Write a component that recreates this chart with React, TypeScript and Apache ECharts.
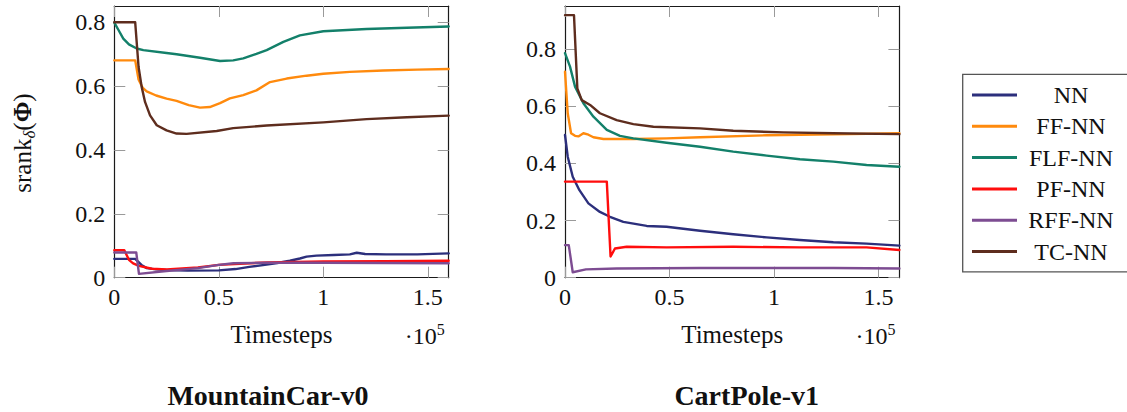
import React, { useEffect, useRef } from "react";
import * as echarts from "echarts";

const FONT = "Liberation Serif";

const seriesNames = ["NN", "FF-NN", "FLF-NN", "PF-NN", "RFF-NN", "TC-NN"];
const seriesColors = ["#2c2f7c", "#ff8a0d", "#13806a", "#ff0d0d", "#7d4c92", "#5e2d1e"];

const yTicks = [0, 0.2, 0.4, 0.6, 0.8];
const yTickLabels = ["0", "0.2", "0.4", "0.6", "0.8"];
const xTicks = [0, 0.5, 1, 1.5];
const xTickLabels = ["0", "0.5", "1", "1.5"];

// MountainCar-v0  [timesteps (x1e5), srank]
const mcNN = [[0, 0.059], [0.1, 0.059], [0.13, 0.04], [0.155, 0.03], [0.2, 0.026], [0.25, 0.024], [0.35, 0.022], [0.5, 0.023], [0.58, 0.027], [0.646, 0.034], [0.72, 0.04], [0.78, 0.046], [0.84, 0.053], [0.888, 0.06], [0.92, 0.066], [0.967, 0.069], [1.05, 0.071], [1.127, 0.073], [1.16, 0.078], [1.2, 0.074], [1.3, 0.073], [1.45, 0.073], [1.6, 0.076]];
const mcFF = [[0, 0.68], [0.1, 0.68], [0.116, 0.62], [0.135, 0.595], [0.155, 0.583], [0.2, 0.57], [0.25, 0.56], [0.298, 0.553], [0.356, 0.54], [0.41, 0.532], [0.457, 0.534], [0.506, 0.546], [0.553, 0.561], [0.617, 0.571], [0.68, 0.586], [0.745, 0.612], [0.825, 0.623], [0.92, 0.632], [1.0, 0.638], [1.127, 0.644], [1.287, 0.648], [1.45, 0.651], [1.6, 0.653]];
const mcFLF = [[0, 0.798], [0.02, 0.775], [0.043, 0.748], [0.07, 0.73], [0.107, 0.717], [0.139, 0.712], [0.25, 0.703], [0.298, 0.699], [0.41, 0.688], [0.506, 0.678], [0.569, 0.68], [0.617, 0.686], [0.68, 0.7], [0.729, 0.712], [0.809, 0.738], [0.888, 0.758], [1.0, 0.771], [1.207, 0.778], [1.4, 0.782], [1.6, 0.786]];
const mcPF = [[0, 0.086], [0.048, 0.086], [0.07, 0.056], [0.09, 0.045], [0.118, 0.037], [0.18, 0.028], [0.25, 0.026], [0.4, 0.032], [0.5, 0.04], [0.73, 0.048], [1.0, 0.051], [1.3, 0.052], [1.6, 0.053]];
const mcRFF = [[0, 0.079], [0.105, 0.079], [0.118, 0.012], [0.25, 0.021], [0.4, 0.03], [0.5, 0.04], [0.57, 0.045], [0.73, 0.047], [1.0, 0.047], [1.3, 0.046], [1.6, 0.045]];
const mcTC = [[0, 0.799], [0.1, 0.799], [0.116, 0.66], [0.131, 0.597], [0.147, 0.55], [0.171, 0.508], [0.203, 0.477], [0.25, 0.461], [0.298, 0.451], [0.346, 0.45], [0.49, 0.459], [0.569, 0.468], [0.729, 0.476], [1.0, 0.486], [1.207, 0.496], [1.4, 0.502], [1.6, 0.507]];

// CartPole-v1
const cpNN = [[0, 0.499], [0.013, 0.423], [0.037, 0.353], [0.069, 0.306], [0.112, 0.26], [0.167, 0.23], [0.215, 0.213], [0.279, 0.195], [0.391, 0.181], [0.486, 0.178], [0.646, 0.164], [0.805, 0.152], [0.965, 0.141], [1.124, 0.132], [1.284, 0.124], [1.443, 0.119], [1.6, 0.112]];
const cpFF = [[0, 0.72], [0.013, 0.575], [0.029, 0.505], [0.048, 0.496], [0.064, 0.494], [0.088, 0.505], [0.112, 0.5], [0.136, 0.491], [0.184, 0.485], [0.327, 0.485], [0.486, 0.487], [0.646, 0.491], [0.965, 0.498], [1.284, 0.501], [1.6, 0.505]];
const cpFLF = [[0, 0.785], [0.024, 0.738], [0.048, 0.668], [0.088, 0.61], [0.136, 0.563], [0.2, 0.517], [0.263, 0.496], [0.327, 0.487], [0.486, 0.472], [0.646, 0.458], [0.805, 0.441], [0.965, 0.427], [1.124, 0.414], [1.284, 0.406], [1.443, 0.394], [1.6, 0.388]];
const cpPF = [[0, 0.336], [0.2, 0.336], [0.218, 0.074], [0.239, 0.102], [0.295, 0.108], [0.486, 0.106], [0.805, 0.108], [1.124, 0.106], [1.443, 0.106], [1.6, 0.097]];
const cpRFF = [[0, 0.114], [0.018, 0.114], [0.037, 0.019], [0.1, 0.029], [0.247, 0.032], [0.646, 0.034], [1.284, 0.034], [1.6, 0.032]];
const cpTC = [[0, 0.918], [0.043, 0.918], [0.059, 0.662], [0.08, 0.621], [0.12, 0.604], [0.167, 0.575], [0.247, 0.551], [0.327, 0.537], [0.423, 0.528], [0.646, 0.522], [0.805, 0.514], [1.045, 0.508], [1.284, 0.505], [1.6, 0.502]];

const mcData = [mcNN, mcFF, mcFLF, mcPF, mcRFF, mcTC];
const cpData = [cpNN, cpFF, cpFLF, cpPF, cpRFF, cpTC];

const titles = ["MountainCar-v0", "CartPole-v1"];
const yMax = [0.85, 0.95];

function makeX(gridIndex: number, pos: "bottom" | "top") {
  const main = pos === "bottom";
  return {
    type: "value",
    gridIndex,
    position: pos,
    min: 0,
    max: 1.6,
    axisLine: { show: true, onZero: false, lineStyle: { color: "#1a1a1a", width: 1.2 } },
    axisTick: { show: true, inside: true, length: 11, customValues: xTicks, lineStyle: { color: "#9a9a9a", width: 1 } },
    axisLabel: {
      show: main,
      customValues: xTicks,
      margin: 7,
      fontFamily: FONT,
      fontSize: 24,
      color: "#111",
      formatter: (v: number) => {
        const i = xTicks.findIndex((t) => Math.abs(t - v) < 1e-6);
        return i >= 0 ? xTickLabels[i] : "";
      },
    },
    splitLine: { show: false },
  };
}

function makeY(gridIndex: number, pos: "left" | "right", max: number) {
  const main = pos === "left";
  return {
    type: "value",
    gridIndex,
    position: pos,
    min: 0,
    max,
    axisLine: { show: true, onZero: false, lineStyle: { color: "#1a1a1a", width: 1.2 } },
    axisTick: { show: true, inside: true, length: 11, customValues: yTicks, lineStyle: { color: "#9a9a9a", width: 1 } },
    axisLabel: {
      show: main,
      customValues: yTicks,
      margin: 9,
      fontFamily: FONT,
      fontSize: 24,
      color: "#111",
      formatter: (v: number) => {
        const i = yTicks.findIndex((t) => Math.abs(t - v) < 1e-6);
        return i >= 0 ? yTickLabels[i] : "";
      },
    },
    splitLine: { show: false },
  };
}

export default function App() {
  const ref = useRef<HTMLDivElement>(null);

  useEffect(() => {
    if (!ref.current) return;
    const chart = echarts.init(ref.current, null, { renderer: "svg" });

    const series: any[] = [];
    [mcData, cpData].forEach((group, g) => {
      group.forEach((d, i) => {
        series.push({
          type: "line",
          name: seriesNames[i],
          xAxisIndex: g * 2,
          yAxisIndex: g * 2,
          data: d,
          showSymbol: false,
          symbol: "none",
          color: seriesColors[i],
          lineStyle: { color: seriesColors[i], width: 2.4, cap: "round", join: "round" },
          z: 2 + i,
        });
      });
    });

    const plotLeft = [114.3, 565];
    const plotWidth = 334.4;

    const graphics: any[] = [];
    [0, 1].forEach((g) => {
      const cx = plotLeft[g] + plotWidth / 2;
      const right = plotLeft[g] + plotWidth;
      graphics.push({
        type: "text",
        x: cx,
        y: 334,
        style: { text: "Timesteps", fontFamily: FONT, fontWeight: "normal", fontSize: 25, fill: "#111", align: "center", verticalAlign: "middle" },
      });
      graphics.push({
        type: "text",
        x: right - 12,
        y: 335.5,
        style: { text: "·10", fontFamily: FONT, fontSize: 24, fill: "#111", align: "right", verticalAlign: "middle" },
      });
      graphics.push({
        type: "text",
        x: right - 12,
        y: 329,
        style: { text: "5", fontFamily: FONT, fontSize: 16, fill: "#111", align: "left", verticalAlign: "middle" },
      });
    });
    graphics.push({
      type: "text",
      x: 268,
      y: 395.5,
      style: { text: titles[0], fontFamily: FONT, fontSize: 28, fontWeight: "bold", fill: "#111", align: "center", verticalAlign: "middle" },
    });
    graphics.push({
      type: "text",
      x: 746.7,
      y: 395.5,
      style: { text: titles[1], fontFamily: FONT, fontSize: 28, fontWeight: "bold", fill: "#111", align: "center", verticalAlign: "middle" },
    });
    graphics.push({
      type: "text",
      x: 22,
      y: 143,
      rotation: Math.PI / 2,
      style: {
        text: "{n|srank}{s|δ}{n|(}{b|Φ}{n|)}",
        align: "center",
        verticalAlign: "middle",
        fill: "#111",
        rich: {
          n: { fontFamily: FONT, fontSize: 25, lineHeight: 32, fill: "#111" },
          s: { fontFamily: FONT, fontSize: 17, lineHeight: 17, fontStyle: "italic", verticalAlign: "bottom", fill: "#111" },
          b: { fontFamily: FONT, fontSize: 25, lineHeight: 32, fontWeight: "bold", fill: "#111" },
        },
      },
    });

    chart.setOption({
      animation: false,
      backgroundColor: "#ffffff",
      textStyle: { fontFamily: FONT },
      grid: [
        { left: plotLeft[0], top: 6, width: plotWidth, height: 271.7, containLabel: false },
        { left: plotLeft[1], top: 6, width: plotWidth, height: 271.7, containLabel: false },
      ],
      xAxis: [makeX(0, "bottom"), makeX(0, "top"), makeX(1, "bottom"), makeX(1, "top")],
      yAxis: [makeY(0, "left", yMax[0]), makeY(0, "right", yMax[0]), makeY(1, "left", yMax[1]), makeY(1, "right", yMax[1])],
      legend: {
        data: seriesNames,
        orient: "vertical",
        left: 962.7,
        top: 74.3,
        padding: [8.7, 30, 8.4, 9.3],
        itemWidth: 45,
        itemHeight: 3,
        itemGap: 7.3,
        icon: "rect",
        selectedMode: false,
        borderColor: "#555",
        borderWidth: 1.3,
        formatter: "{c|{name}}",
        textStyle: {
          fontFamily: FONT,
          fontSize: 24,
          color: "#111",
          lineHeight: 24,
          rich: { c: { width: 98, align: "center", fontFamily: FONT, fontWeight: "normal", fontSize: 24, lineHeight: 24, color: "#111" } },
        },
      },
      graphic: graphics,
      series,
    });

    return () => chart.dispose();
  }, []);

  return (
    <div
      ref={ref}
      style={{ position: "absolute", left: 0, top: 0, width: 1127, height: 412, background: "#fff" }}
    />
  );
}
